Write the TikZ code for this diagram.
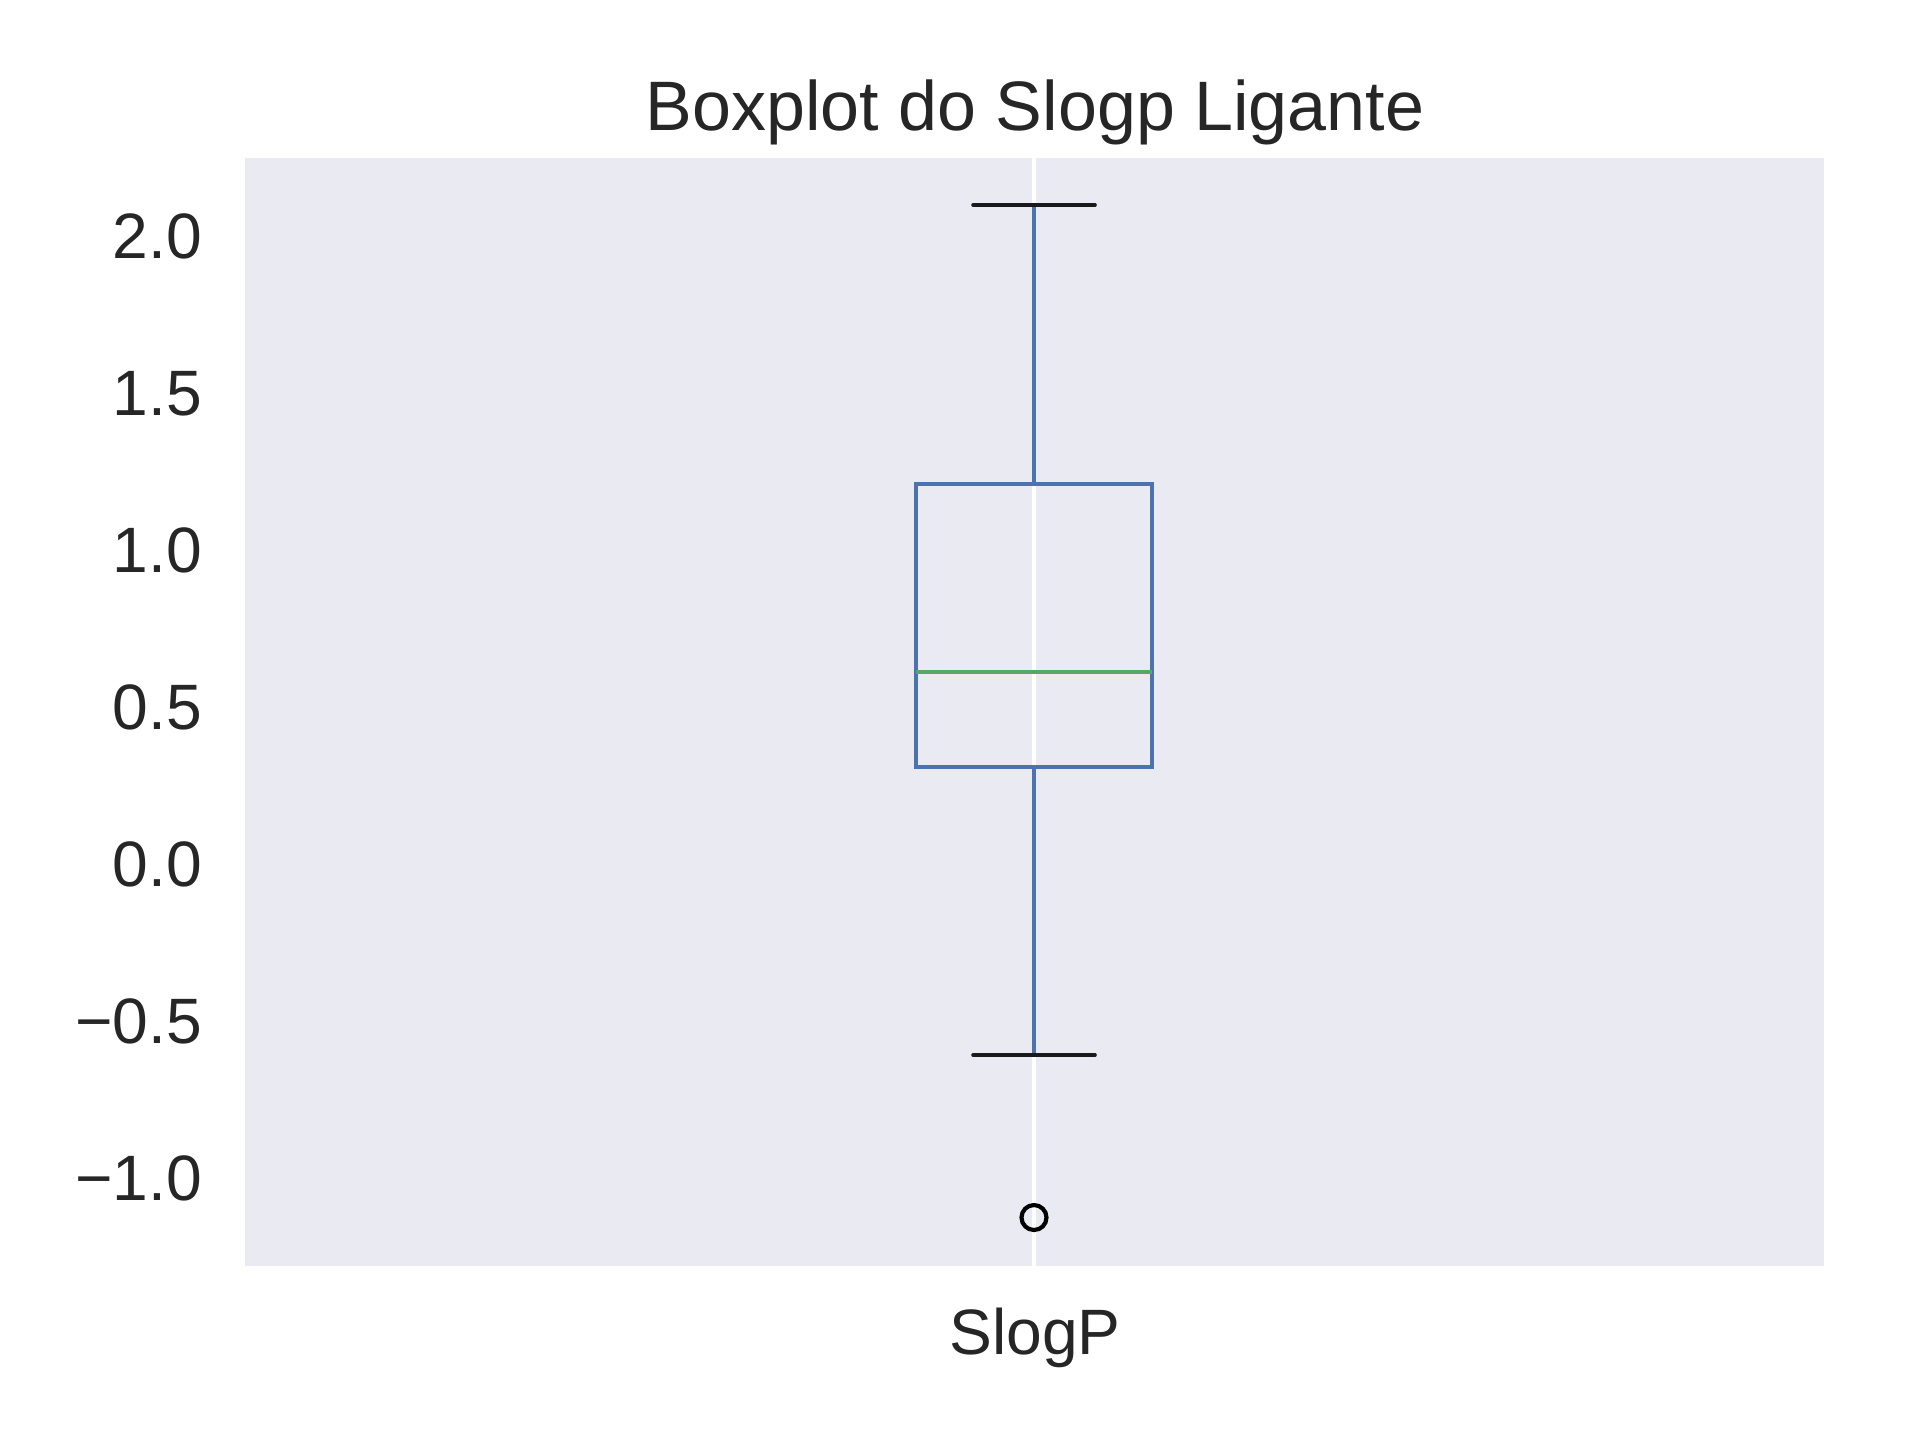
\documentclass[tikz,border=0pt]{standalone}
\usepackage{fontspec}
\setmainfont{Liberation Sans}
\usepackage{xcolor}
\usepackage{tikz}

\definecolor{AxBg}{HTML}{EAEAF2}
\definecolor{BoxBlue}{HTML}{4C72B0}
\definecolor{MedGreen}{HTML}{55A868}
\definecolor{CapBlack}{HTML}{1A1A1A}
\definecolor{TextGray}{HTML}{262626}

\tikzset{
  boxline/.style={draw=BoxBlue,line width=0.86pt},
  capline/.style={draw=CapBlack,line width=0.86pt,line cap=round},
  ticklab/.style={anchor=base east,inner sep=0pt,text=TextGray,
    font=\fontsize{15.4}{18}\selectfont},
}

\begin{document}
\begin{tikzpicture}[x=0.24pt,y=-0.24pt]
  \useasboundingbox (0,0) rectangle (1920,1440);

  % Axes background
  \fill[AxBg] (245,158) rectangle (1824,1266);

  % Grid line
  \draw[white,line width=0.96pt] (1034,158) -- (1034,1266);

  % Box and whiskers
  \draw[boxline] (916,484) rectangle (1152,767);
  \draw[boxline] (1034,484) -- (1034,205);
  \draw[boxline] (1034,767) -- (1034,1055);

  % Caps
  \draw[capline] (973,205) -- (1095,205);
  \draw[capline] (973,1055) -- (1095,1055);

  % Median
  \draw[draw=MedGreen,line width=0.86pt] (916,672) -- (1152,672);

  % Outlier
  \draw[black,line width=1pt] (1034,1217.5) circle[radius=12.5];

  % Tick labels
  \foreach \v/\lab [count=\i] in {2.0/2.0, 1.5/1.5, 1.0/1.0, 0.5/0.5,
      0.0/0.0, -0.5/−0.5, -1.0/−1.0}
    \node[ticklab] (tick\i) at (203,{258+(2-(\v))*314}) {\lab};

  \node[anchor=base,inner sep=0pt,text=TextGray,
    font=\fontsize{15.4}{18}\selectfont] (xlab) at (1035,1354) {SlogP};

  \node[anchor=base,inner sep=0pt,text=TextGray,
    font=\fontsize{16.8}{20}\selectfont] (title) at (1035,130)
    {Boxplot do Slogp Ligante};
\end{tikzpicture}
\end{document}
